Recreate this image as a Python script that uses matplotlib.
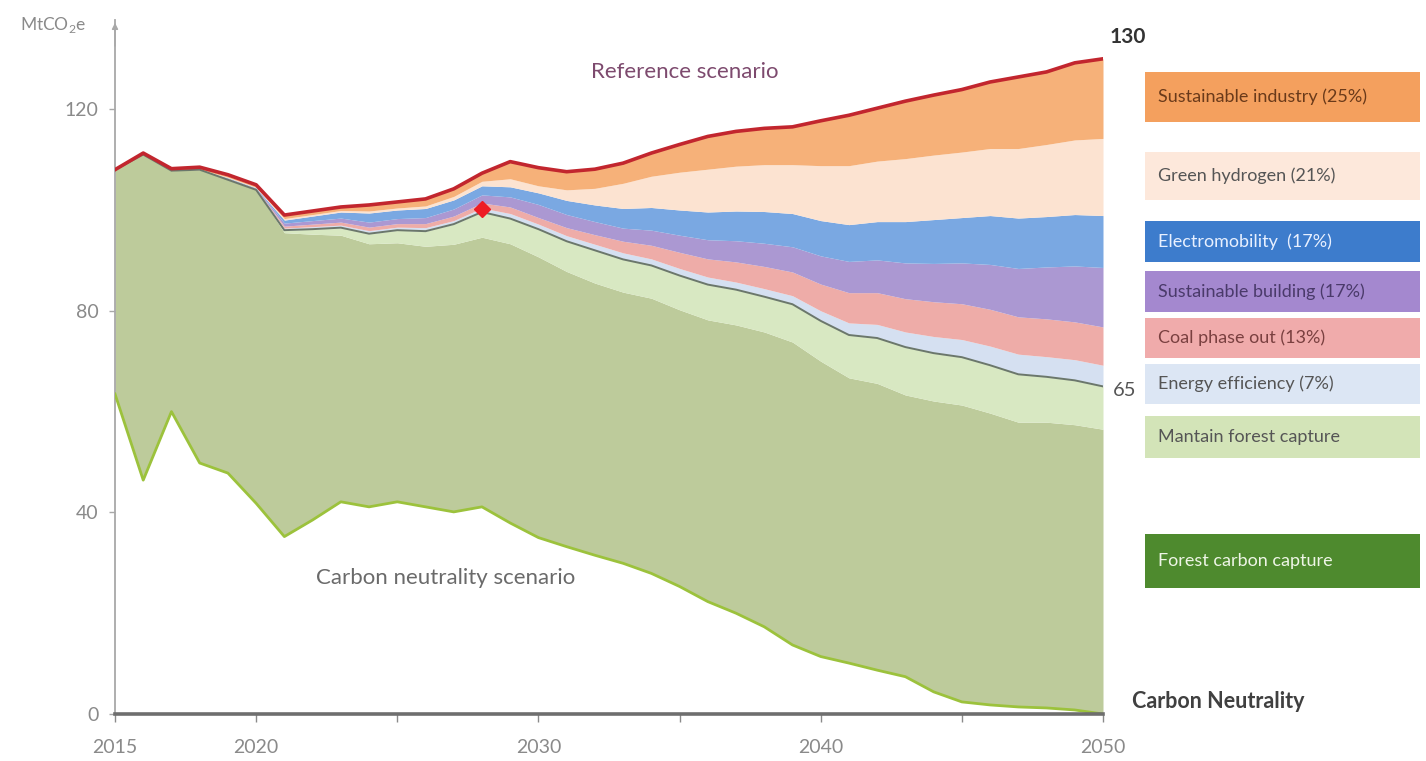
import matplotlib
matplotlib.use("Agg")
import matplotlib.pyplot as plt
from matplotlib.patches import Rectangle
import numpy as np

plt.rcParams['font.family'] = ['Lato', 'DejaVu Sans']

# ---------------- data (MtCO2e) ----------------
years = list(range(2015, 2051))

# emissions path after sector measures (grey line)
after_measures = [108.0, 111.0, 107.8, 108.0, 106.0, 104.0, 96.0, 96.2, 96.5, 95.3,
                  96.0, 95.8, 97.2, 99.6, 98.3, 96.2, 93.8, 92.0, 90.2, 89.0,
                  87.0, 85.2, 84.2, 82.8, 81.3, 78.0, 75.2, 74.6, 72.8, 71.6,
                  70.8, 69.2, 67.4, 66.9, 66.2, 65.0]

# abatement per measure, stacked upward from the grey line
energy_efficiency = [0, 0, 0, 0, 0.1, 0.1, 0.4, 0.5, 0.5, 0.6, 0.6, 0.7, 0.7, 0.8, 1.0, 1.0,
                     1.1, 1.2, 1.3, 1.3, 1.4, 1.5, 1.5, 1.6, 1.7, 2.0, 2.4, 2.7, 3.0, 3.3,
                     3.5, 3.8, 4.0, 4.0, 4.1, 4.2]
coal_phase_out = [0, 0, 0, 0, 0.1, 0.1, 0.4, 0.5, 0.6, 0.7, 0.7, 0.8, 0.9, 1.0, 1.3, 1.3,
                  1.6, 1.9, 2.3, 2.7, 3.2, 3.6, 4.0, 4.4, 4.7, 5.3, 6.0, 6.3, 6.6, 6.9,
                  7.1, 7.3, 7.4, 7.5, 7.5, 7.6]
sustainable_building = [0, 0, 0, 0, 0.1, 0.1, 0.6, 0.7, 0.8, 1.0, 1.0, 1.2, 1.4, 1.6, 2.0, 2.6,
                        2.6, 2.6, 2.6, 3.0, 3.4, 3.8, 4.2, 4.6, 5.0, 5.6, 6.2, 6.5, 7.1, 7.6,
                        8.1, 8.9, 9.6, 10.3, 11.1, 11.8]
electromobility = [0, 0, 0, 0, 0.1, 0.1, 0.6, 0.9, 1.2, 1.8, 1.7, 1.8, 1.8, 1.8, 2.0, 2.3,
                   2.8, 3.3, 3.9, 4.5, 5.0, 5.5, 5.9, 6.3, 6.6, 7.0, 7.3, 7.6, 8.2, 8.7,
                   9.0, 9.7, 10.0, 10.0, 10.2, 10.3]
green_hydrogen = [0, 0, 0, 0.1, 0.1, 0.1, 0.3, 0.3, 0.3, 0.4, 0.4, 0.5, 0.7, 0.9, 1.6, 1.4,
                  2.1, 3.3, 5.0, 6.2, 7.5, 8.5, 8.9, 9.3, 9.7, 10.9, 11.7, 12.0, 12.5, 12.8,
                  13.0, 13.3, 13.8, 14.3, 14.8, 15.3]
sustainable_industry = [0, 0.3, 0.4, 0.4, 0.5, 0.5, 0.7, 0.7, 0.7, 1.2, 1.2, 1.4, 1.5, 1.6, 3.4, 3.6,
                        3.6, 3.8, 4.0, 4.6, 5.5, 6.5, 6.9, 7.2, 7.5, 8.9, 10.0, 10.5, 11.4, 11.9,
                        12.4, 13.2, 14.2, 14.4, 15.3, 15.8]

# forest sink kept under the grey line
maintain_forest = [0, 0, 0, 0, 0, 0, 0.5, 1.0, 1.5, 2.0, 2.5, 3.0, 4.0, 5.0, 5.0, 5.5,
                   6.0, 6.5, 6.5, 6.5, 6.8, 7.0, 7.0, 7.0, 7.5, 8.0, 8.5, 9.0, 9.5, 9.5,
                   9.5, 9.5, 9.5, 9.0, 8.8, 8.5]

# carbon neutrality scenario (lower edge of the forest capture area)
neutrality_path = [63.5, 46.4, 60.0, 49.8, 47.8, 41.8, 35.2, 38.5, 42.1, 41.1, 42.1, 41.1,
                   40.1, 41.1, 37.9, 35.0, 33.2, 31.5, 29.9, 27.9, 25.3, 22.3, 20.0, 17.3,
                   13.7, 11.4, 10.1, 8.7, 7.4, 4.4, 2.4, 1.8, 1.4, 1.2, 0.8, 0.0]

milestone_year, milestone_value = 2028, 100.2

measure_labels = ["Energy efficiency (7%)", "Coal phase out (13%)", "Sustainable building (17%)",
                  "Electromobility  (17%)", "Green hydrogen (21%)", "Sustainable industry (25%)"]
y_ticks = [0, 40, 80, 120]
x_ticks = [2015, 2020, 2025, 2030, 2035, 2040, 2045, 2050]
x_ticklabels = ["2015", "2020", "", "2030", "", "2040", "", "2050"]

# ---------------- styling ----------------
band_colors = ["#d5e0f1", "#eeaca8", "#ab98d2", "#7aa8e2", "#fce3d1", "#f6b179"]
legend_colors = ["#dce6f4", "#f0abab", "#a488cf", "#3d7ccc", "#fde8db", "#f4a05e"]
legend_text_colors = ["#555555", "#7a4040", "#4a3a6a", "#e8f0ff", "#555555", "#6a3a1a"]
olive = "#bdcb9b"
light_green = "#d8e8c2"

W, H = 1426, 761
fig = plt.figure(figsize=(W / 100, H / 100), dpi=100)
ax = fig.add_axes([115 / W, 1 - 714 / H, (1103 - 115) / W, (714 - 20) / H])

x = np.array(years, dtype=float)
grey = np.array(after_measures)
forest_top = grey - np.array(maintain_forest)
bottom = np.array(neutrality_path)

ax.fill_between(x, bottom, forest_top, color=olive, lw=0, zorder=1)
ax.fill_between(x, forest_top, grey, color=light_green, lw=0, zorder=1)

base = grey.copy()
for vals, col in zip([energy_efficiency, coal_phase_out, sustainable_building,
                      electromobility, green_hydrogen, sustainable_industry], band_colors):
    top = base + np.array(vals)
    ax.fill_between(x, base, top, color=col, lw=0, zorder=1)
    base = top
reference = base

ax.plot(x, bottom, color="#9cc23c", lw=2.0, zorder=3)
ax.plot(x, grey, color="#6b776b", lw=1.4, zorder=3)
ax.plot(x, reference, color="#c2262e", lw=2.6, zorder=4)
ax.plot([milestone_year], [milestone_value], marker="D", ms=8, color="#ee1c24",
        mec="#ee1c24", zorder=5)

ax.set_xlim(2015, 2050)
ax.set_ylim(0, 137.7)
for s in ["top", "right"]:
    ax.spines[s].set_visible(False)
ax.spines["left"].set_color("#a8a8a8")
ax.spines["left"].set_linewidth(1.3)
ax.spines["bottom"].set_color("#6e6e6e")
ax.spines["bottom"].set_linewidth(2.6)
ax.spines["bottom"].set_zorder(6)

ax.set_yticks(y_ticks)
ax.set_xticks(x_ticks)
ax.set_xticklabels(x_ticklabels)
ax.tick_params(axis="y", length=4, width=1, color="#a8a8a8", labelsize=14,
               labelcolor="#8a8a8a", pad=8)
ax.tick_params(axis="x", length=6, width=1, color="#8a8a8a", labelsize=14,
               labelcolor="#8a8a8a", pad=12)

ax.annotate("", xy=(2015, 137.7), xytext=(2015, 132), xycoords="data",
            arrowprops=dict(arrowstyle="-|>", color="#a8a8a8", lw=1.0,
                            mutation_scale=9), annotation_clip=False)

# ---------------- annotations ----------------
def fx(px):
    return px / W


def fy(py):
    return 1 - py / H


fig.text(fx(20), fy(25), r"MtCO$_{\mathregular{2}}$e", fontsize=12.5, color="#8a8a8a",
         va="center", ha="left")
ax.text(2035.2, 127.4, "Reference scenario", fontsize=16, color="#7d4a6e",
        ha="center", va="center")
ax.text(2026.7, 27, "Carbon neutrality scenario", fontsize=16, color="#6a6a6a",
        ha="center", va="center")
ax.annotate(f"{reference[-1]:.0f}", xy=(2050, reference[-1]), xytext=(5, 16),
            textcoords="offset points", fontsize=15, fontweight="bold", color="#333333",
            ha="left", va="center", annotation_clip=False)
ax.annotate(f"{grey[-1]:.0f}", xy=(2050, grey[-1]), xytext=(7, -3),
            textcoords="offset points", fontsize=14.5, color="#555555",
            ha="left", va="center", annotation_clip=False)
fig.text(fx(1132), fy(702), "Carbon Neutrality", fontsize=15.5, fontweight="bold",
         color="#404040", ha="left", va="center")

# legend boxes on the right
LEG_FS = 13
boxes = [(364, 404), (318, 358), (271, 312), (221, 262), (152, 200), (72, 122)]
for (y0, y1), col, lab, tc in zip(boxes, legend_colors, measure_labels, legend_text_colors):
    fig.patches.append(Rectangle((fx(1145), fy(y1)), fx(1420) - fx(1145), fy(y0) - fy(y1),
                                 transform=fig.transFigure, color=col, lw=0))
    fig.text(fx(1158), fy((y0 + y1) / 2), lab, fontsize=LEG_FS, color=tc, ha="left", va="center")

fig.patches.append(Rectangle((fx(1145), fy(458)), fx(1420) - fx(1145), fy(416) - fy(458),
                             transform=fig.transFigure, color="#d3e4b8", lw=0))
fig.text(fx(1158), fy(437), "Mantain forest capture", fontsize=LEG_FS, color="#555555",
         ha="left", va="center")
fig.patches.append(Rectangle((fx(1145), fy(588)), fx(1420) - fx(1145), fy(534) - fy(588),
                             transform=fig.transFigure, color="#4e8a2e", lw=0))
fig.text(fx(1158), fy(561), "Forest carbon capture", fontsize=LEG_FS, color="#eef5e6",
         ha="left", va="center")

fig.savefig("out.png", dpi=100, facecolor="white")
